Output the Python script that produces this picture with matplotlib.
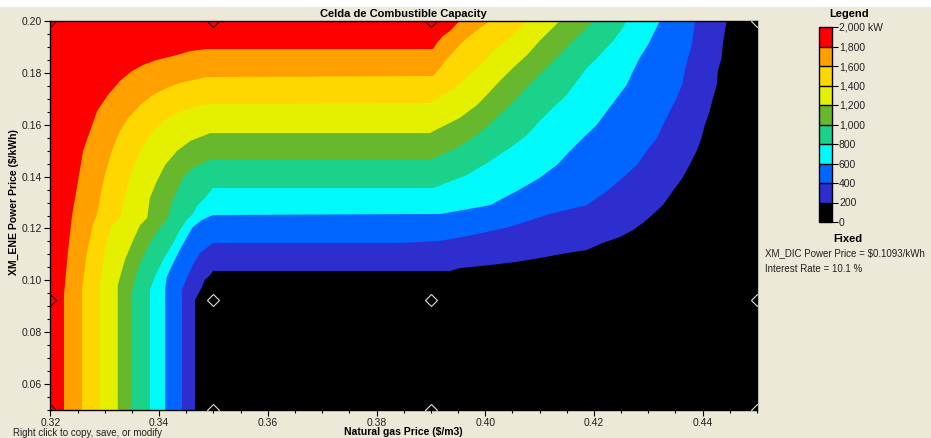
import matplotlib
matplotlib.use("Agg")
import matplotlib.pyplot as plt
import matplotlib.ticker as mticker
from matplotlib.colors import ListedColormap, BoundaryNorm
from matplotlib.cm import ScalarMappable
from matplotlib.patches import Rectangle

plt.rcParams['font.family'] = ['Liberation Sans', 'DejaVu Sans']

# capacity levels (kW) and legend colours
levels = [0, 200, 400, 600, 800, 1000, 1200, 1400, 1600, 1800, 2000]
level_labels = ['0', '200', '400', '600', '800', '1,000', '1,200', '1,400', '1,600', '1,800', '2,000 kW']
colors = ['#000000', '#2e2ecf', '#0066ff', '#00fafa', '#1ad28a',
          '#68b82e', '#e4f000', '#ffd700', '#ffa000', '#ff0000']

# contour boundaries (gas price, power price)
b200_x = [0.3466, 0.3466, 0.3473, 0.3479, 0.3484, 0.3494, 0.3499, 0.3935, 0.3953, 0.4009, 0.4058, 0.4100,
          0.4150, 0.4187, 0.4216, 0.4248, 0.4272, 0.4290, 0.4303, 0.4327, 0.4345, 0.4363, 0.4376, 0.4389,
          0.4398, 0.4404, 0.4413, 0.4419, 0.4426, 0.4428, 0.4435, 0.4437, 0.4441, 0.4444]
b200_y = [0.0500, 0.0924, 0.0951, 0.0974, 0.1001, 0.1020, 0.1036, 0.1036, 0.1047, 0.1059, 0.1071, 0.1086,
          0.1105, 0.1117, 0.1144, 0.1167, 0.1194, 0.1221, 0.1244, 0.1290, 0.1344, 0.1395, 0.1445, 0.1499,
          0.1549, 0.1599, 0.1653, 0.1703, 0.1753, 0.1807, 0.1857, 0.1907, 0.1961, 0.2000]

b400_x = [0.3442, 0.3442, 0.3451, 0.3462, 0.3475, 0.3499, 0.3843, 0.3917, 0.3977, 0.4045, 0.4119, 0.4187,
          0.4224, 0.4253, 0.4279, 0.4297, 0.4316, 0.4327, 0.4340, 0.4352, 0.4362, 0.4367, 0.4373, 0.4380, 0.4386]
b400_y = [0.0500, 0.0963, 0.1009, 0.1059, 0.1105, 0.1144, 0.1144, 0.1152, 0.1175, 0.1206, 0.1256, 0.1290,
          0.1344, 0.1395, 0.1445, 0.1499, 0.1549, 0.1599, 0.1653, 0.1703, 0.1753, 0.1807, 0.1857, 0.1907, 0.2000]

b600_x = [0.3411, 0.3411, 0.3414, 0.3426, 0.3438, 0.3451, 0.3462, 0.3479, 0.3499, 0.3917, 0.3948, 0.4009,
          0.4058, 0.4100, 0.4132, 0.4156, 0.4180, 0.4205, 0.4224, 0.4242, 0.4260, 0.4272, 0.4284, 0.4299,
          0.4312, 0.4321]
b600_y = [0.0500, 0.0963, 0.1013, 0.1067, 0.1117, 0.1167, 0.1206, 0.1233, 0.1252, 0.1256, 0.1267, 0.1290,
          0.1344, 0.1395, 0.1445, 0.1499, 0.1549, 0.1599, 0.1653, 0.1703, 0.1753, 0.1807, 0.1857, 0.1907,
          0.1961, 0.2000]

b800_x = [0.3383, 0.3383, 0.3392, 0.3407, 0.3426, 0.3438, 0.3451, 0.3462, 0.3471, 0.3484, 0.3499, 0.3904,
          0.3966, 0.4009, 0.4045, 0.4077, 0.4100, 0.4124, 0.4150, 0.4169, 0.4187, 0.4211, 0.4235, 0.4253, 0.4260]
b800_y = [0.0500, 0.0963, 0.1013, 0.1078, 0.1144, 0.1194, 0.1233, 0.1256, 0.1290, 0.1317, 0.1356, 0.1356,
          0.1406, 0.1460, 0.1510, 0.1560, 0.1614, 0.1664, 0.1715, 0.1769, 0.1819, 0.1869, 0.1923, 0.1973, 0.2000]

b1000_x = [0.3350, 0.3350, 0.3356, 0.3368, 0.3383, 0.3402, 0.3416, 0.3424, 0.3433, 0.3444, 0.3462, 0.3481,
           0.3494, 0.3898, 0.3948, 0.3985, 0.4014, 0.4040, 0.4064, 0.4088, 0.4113, 0.4137, 0.4161, 0.4187, 0.4198]
b1000_y = [0.0500, 0.0951, 0.1013, 0.1078, 0.1144, 0.1206, 0.1240, 0.1306, 0.1344, 0.1395, 0.1433, 0.1452,
           0.1464, 0.1464, 0.1510, 0.1560, 0.1614, 0.1664, 0.1715, 0.1769, 0.1819, 0.1869, 0.1923, 0.1973, 0.2000]

b1200_x = [0.3324, 0.3324, 0.3337, 0.3350, 0.3365, 0.3378, 0.3383, 0.3396, 0.3411, 0.3433, 0.3457, 0.3481,
           0.3494, 0.3898, 0.3953, 0.3985, 0.4003, 0.4027, 0.4051, 0.4077, 0.4100, 0.4124, 0.4137]
b1200_y = [0.0500, 0.0982, 0.1078, 0.1144, 0.1213, 0.1240, 0.1317, 0.1383, 0.1445, 0.1499, 0.1537, 0.1557,
           0.1568, 0.1568, 0.1626, 0.1676, 0.1715, 0.1769, 0.1819, 0.1869, 0.1923, 0.1973, 0.2000]

b1400_x = [0.3291, 0.3291, 0.3300, 0.3313, 0.3328, 0.3337, 0.3350, 0.3365, 0.3383, 0.3407, 0.3433, 0.3457,
           0.3481, 0.3499, 0.3898, 0.3935, 0.3966, 0.3985, 0.4003, 0.4021, 0.4045, 0.4064, 0.4078]
b1400_y = [0.0500, 0.0982, 0.1117, 0.1213, 0.1240, 0.1329, 0.1422, 0.1499, 0.1560, 0.1614, 0.1645, 0.1664,
           0.1676, 0.1680, 0.1684, 0.1730, 0.1780, 0.1819, 0.1857, 0.1896, 0.1934, 0.1973, 0.2000]

b1600_x = [0.3258, 0.3258, 0.3267, 0.3278, 0.3286, 0.3291, 0.3300, 0.3313, 0.3328, 0.3343, 0.3365, 0.3389,
           0.3414, 0.3438, 0.3462, 0.3488, 0.3904, 0.3917, 0.3931, 0.3948, 0.3966, 0.3985, 0.4009]
b1600_y = [0.0500, 0.0963, 0.1105, 0.1213, 0.1256, 0.1317, 0.1406, 0.1499, 0.1576, 0.1626, 0.1676, 0.1715,
           0.1742, 0.1761, 0.1772, 0.1784, 0.1788, 0.1819, 0.1857, 0.1896, 0.1934, 0.1965, 0.2000]

b1800_x = [0.3225, 0.3225, 0.3232, 0.3240, 0.3254, 0.3260, 0.3273, 0.3286, 0.3306, 0.3328, 0.3350, 0.3370,
           0.3396, 0.3433, 0.3457, 0.3488, 0.3904, 0.3911, 0.3922, 0.3935, 0.3944, 0.3953]
b1800_y = [0.0500, 0.0943, 0.1105, 0.1252, 0.1422, 0.1499, 0.1576, 0.1653, 0.1715, 0.1769, 0.1807, 0.1830,
           0.1850, 0.1869, 0.1884, 0.1892, 0.1892, 0.1915, 0.1942, 0.1961, 0.1981, 0.2000]

boundaries = [(b200_x, b200_y), (b400_x, b400_y), (b600_x, b600_y), (b800_x, b800_y),
              (b1000_x, b1000_y), (b1200_x, b1200_y), (b1400_x, b1400_y), (b1600_x, b1600_y),
              (b1800_x, b1800_y)]

# sensitivity grid points (diamonds)
grid_x = [0.32, 0.35, 0.39, 0.45]
grid_y = [0.05, 0.0925, 0.20]

xmin, xmax, ymin, ymax = 0.32, 0.45, 0.05, 0.20

fig = plt.figure(figsize=(9.31, 4.38), dpi=100, facecolor='#ece9d8')
fig.patches.append(Rectangle((0, 1 - 7 / 438), 1, 7 / 438, transform=fig.transFigure,
                             facecolor='white', edgecolor='none'))

ax = fig.add_axes([50.4 / 931, 1 - 410 / 438, 706.6 / 931, 389 / 438])
ax.set_facecolor(colors[0])

# fill "capacity >= level" regions from lowest to highest
for col, (bx, by) in zip(colors[1:], boundaries):
    px = list(bx) + [xmin, xmin]
    py = list(by) + [ymax, ymin]
    ax.fill(px, py, color=col, lw=0)

for gx in grid_x:
    for gy in grid_y:
        on_red = gx == xmin or (gy == ymax and gx < xmax)
        ax.plot(gx, gy, marker='D', ms=6, mfc='none', mew=0.8,
                mec='#500000' if on_red else '#dddddd', zorder=5)

ax.set_xlim(xmin, xmax)
ax.set_ylim(ymin, ymax)
ax.xaxis.set_major_locator(mticker.MultipleLocator(0.02))
ax.xaxis.set_minor_locator(mticker.MultipleLocator(0.005))
ax.yaxis.set_major_locator(mticker.FixedLocator([0.06, 0.08, 0.10, 0.12, 0.14, 0.16, 0.18, 0.20]))
ax.yaxis.set_minor_locator(mticker.MultipleLocator(0.005))
ax.xaxis.set_major_formatter(mticker.FormatStrFormatter('%.2f'))
ax.yaxis.set_major_formatter(mticker.FormatStrFormatter('%.2f'))
ax.tick_params(which='major', direction='out', length=4, width=0.8, labelsize=7.5, pad=2, colors='black',
               labelcolor='#222222')
ax.tick_params(which='minor', direction='out', length=2, width=0.8)
for s in ax.spines.values():
    s.set_linewidth(1)

ax.set_title('Celda de Combustible Capacity', fontsize=8, fontweight='bold', pad=3)
ax.set_xlabel('Natural gas Price ($/m3)', fontsize=7.5, fontweight='bold', labelpad=-1)
ax.set_ylabel('XM_ENE Power Price ($/kWh)', fontsize=7.5, fontweight='bold')
ax.yaxis.set_label_coords(-0.045, 0.535)

fig.text(13 / 931, 1 - 433 / 438, 'Right click to copy, save, or modify', fontsize=7, va='center',
         color='#222222')

# legend colour bar
cax = fig.add_axes([819 / 931, 1 - 222 / 438, 13 / 931, 195 / 438])
cmap = ListedColormap(colors)
norm = BoundaryNorm(levels, cmap.N)
cb = fig.colorbar(ScalarMappable(norm=norm, cmap=cmap), cax=cax, ticks=levels, drawedges=True)
cb.ax.set_yticklabels(level_labels)
cb.ax.tick_params(direction='out', length=4, width=0.8, labelsize=7.5, pad=1, labelcolor='#222222')
cb.outline.set_linewidth(1)
cb.dividers.set_linewidth(1)

fig.text(849 / 931, 1 - 14 / 438, 'Legend', fontsize=8, fontweight='bold', ha='center', va='center')
fig.text(848 / 931, 1 - 239 / 438, 'Fixed', fontsize=8, fontweight='bold', ha='center', va='center')
fig.text(765 / 931, 1 - 253 / 438, 'XM_DIC Power Price = $0.1093/kWh', fontsize=7, va='center',
         color='#222222')
fig.text(765 / 931, 1 - 269 / 438, 'Interest Rate = 10.1 %', fontsize=7, va='center', color='#222222')

fig.savefig('out.png', dpi=100, facecolor=fig.get_facecolor())
